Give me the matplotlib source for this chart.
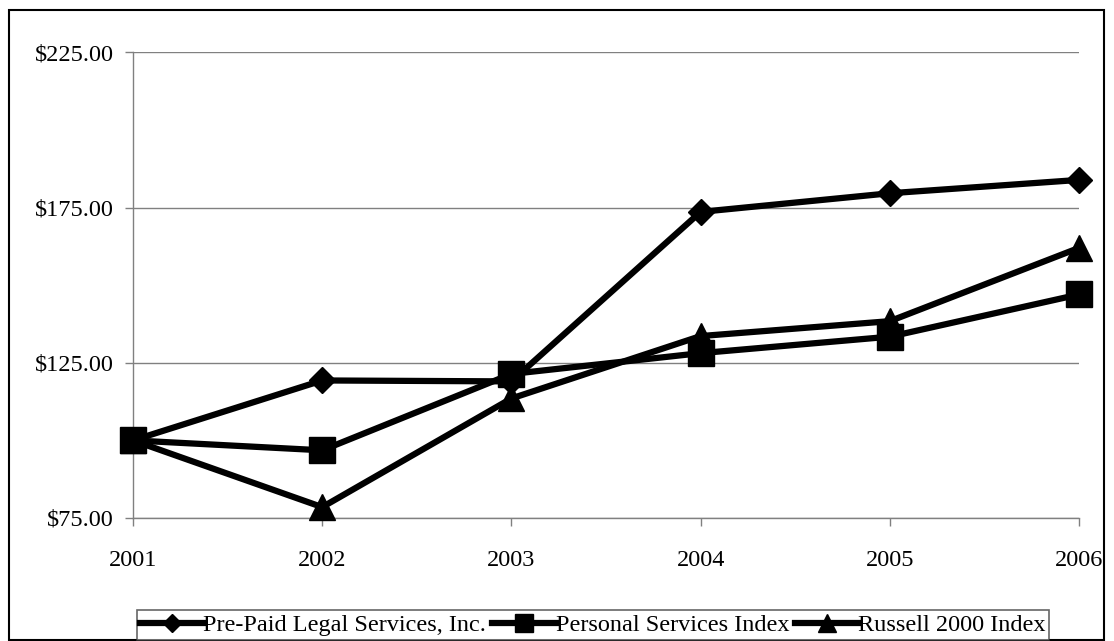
import matplotlib
matplotlib.use("Agg")
import matplotlib.pyplot as plt
from matplotlib.patches import Rectangle

# cumulative value of $100 invested in 2001
years = ["2001", "2002", "2003", "2004", "2005", "2006"]
prepaid = [100.0, 119.3, 119.0, 173.6, 179.6, 183.9]
personal = [100.0, 96.8, 121.4, 128.1, 133.4, 147.0]
russell = [100.0, 78.5, 113.5, 133.6, 138.4, 162.0]

series_names = ["Pre-Paid Legal Services, Inc.", "Personal Services Index", "Russell 2000 Index"]
yticks = [75, 125, 175, 225]

plt.rcParams["font.family"] = ["Liberation Serif", "DejaVu Serif"]
FS = 17.5

fig = plt.figure(figsize=(11.14, 6.41), dpi=100)
ax = fig.add_axes([0.1194, 0.1919, 0.9686 - 0.1194, 0.9184 - 0.1919])

x = list(range(len(years)))
styles = [("D", 13.5), ("s", 18.5), ("^", 19.0)]
for vals, name, (m, ms) in zip([prepaid, personal, russell], series_names, styles):
    ax.plot(x, vals, color="black", lw=4.5, marker=m, markersize=ms,
            clip_on=False, zorder=3, label=name, solid_joinstyle="miter")

ax.set_xlim(0, len(years) - 1)
ax.set_ylim(75, 225)
ax.set_xticks(x)
ax.set_xticklabels(years, fontsize=FS)
ax.set_yticks(yticks)
ax.set_yticklabels([f"${v:.2f}" for v in yticks], fontsize=FS)

ax.grid(axis="y", color="#808080", lw=1.0)
ax.set_axisbelow(True)
for side in ("top", "right"):
    ax.spines[side].set_visible(False)
for side in ("left", "bottom"):
    ax.spines[side].set_color("#808080")
    ax.spines[side].set_linewidth(1.0)
ax.tick_params(axis="y", length=6, width=1, color="#808080", pad=8)
ax.tick_params(axis="x", length=6, width=1, color="#808080", pad=17)

handles, labels = ax.get_legend_handles_labels()
leg_ms = [9, 13, 13]
leg = fig.legend(handles, labels, loc="center", bbox_to_anchor=(593 / 1114, 1 - 625 / 641),
                 ncol=3, fontsize=FS, frameon=True, fancybox=False, edgecolor="#404040",
                 handlelength=2.6, handletextpad=0.0, columnspacing=0.25,
                 borderpad=0.15, borderaxespad=0)
leg.get_frame().set_linewidth(1.2)
for h, ms in zip(leg.legend_handles, leg_ms):
    h.set_markersize(ms)

# outer chart border
fig.patches.append(Rectangle((9 / 1114, 0.002), 1095 / 1114, 1 - 10 / 641 - 0.002,
                             transform=fig.transFigure, fill=False,
                             edgecolor="black", lw=1.5))

fig.savefig("out.png", dpi=100)
